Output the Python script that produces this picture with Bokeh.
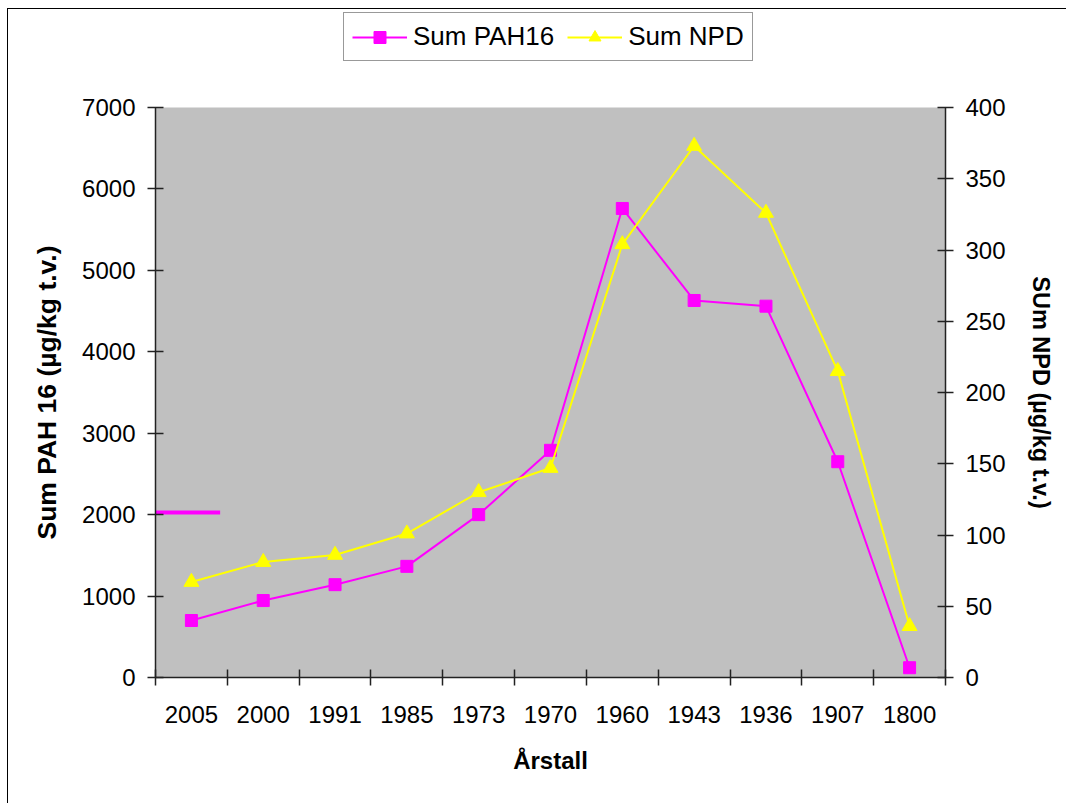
from bokeh.plotting import figure
from bokeh.layouts import column
from bokeh.models import (Range1d, LinearAxis, FixedTicker, Legend, LegendItem)
from bokeh.embed import file_html
from bokeh.resources import INLINE

years = ["2005", "2000", "1991", "1985", "1973", "1970", "1960", "1943", "1936", "1907", "1800"]
sum_pah16 = [700, 945, 1140, 1365, 2000, 2790, 5760, 4630, 4560, 2650, 120]
sum_npd = [67, 81, 86, 101, 130, 147, 304, 373, 326, 215, 36]
ref_line_value = 2025
left_ticks = [0, 1000, 2000, 3000, 4000, 5000, 6000, 7000]
right_ticks = [0, 50, 100, 150, 200, 250, 300, 350, 400]
series_names = ["Sum PAH16", "Sum NPD"]

FONT = "Liberation Sans"
MAGENTA = "#FF00FF"
YELLOW = "#FFFF00"

xpos = [i + 0.5 for i in range(len(years))]

# ---------- legend strip (top); its series lie outside its visible range ----------
p_leg = figure(width=1066, height=62, output_backend="svg", toolbar_location=None,
               x_range=Range1d(-1000, -999), y_range=Range1d(-1000, -999),
               x_axis_type=None, y_axis_type=None, min_border=0)
p_leg.background_fill_color = None
p_leg.border_fill_color = None
p_leg.outline_line_color = None
p_leg.grid.visible = False
dl1 = p_leg.line(xpos, sum_pah16, line_color=MAGENTA, line_width=2)
dm1 = p_leg.scatter(xpos, sum_pah16, marker="square", size=12, fill_color=MAGENTA,
                    line_color=MAGENTA)
dl2 = p_leg.line(xpos, sum_npd, line_color=YELLOW, line_width=2)
dm2 = p_leg.scatter(xpos, sum_npd, marker="triangle", size=15, fill_color=YELLOW,
                    line_color=YELLOW)
legend = Legend(items=[LegendItem(label=series_names[0], renderers=[dl1, dm1]),
                       LegendItem(label=series_names[1], renderers=[dl2, dm2])],
                location=(188, 1), orientation="horizontal")
legend.label_text_font = FONT
legend.label_text_font_size = "26px"
legend.label_text_color = "black"
legend.glyph_width = 55
legend.glyph_height = 30
legend.label_standoff = 6
legend.spacing = 13
legend.padding = 8
legend.margin = 0
legend.border_line_color = "#333333"
legend.border_line_width = 1.5
legend.background_fill_color = "white"
legend.background_fill_alpha = 1
p_leg.add_layout(legend, "center")

# ---------- main chart ----------
p = figure(width=1066, height=741, output_backend="svg", toolbar_location=None,
           x_range=Range1d(0, len(years)), y_range=Range1d(0, 7000),
           min_border_left=155, min_border_top=45, min_border_right=121,
           min_border_bottom=126)
p.extra_y_ranges = {"npd": Range1d(0, 400)}

p.background_fill_color = "#C0C0C0"
p.border_fill_color = None
p.outline_line_color = None
p.grid.visible = False

xa = p.xaxis[0]
xa.ticker = FixedTicker(ticks=xpos, minor_ticks=list(range(len(years) + 1)))
xa.major_label_overrides = {x: y for x, y in zip(xpos, years)}
xa.major_tick_in = 0
xa.major_tick_out = 0
xa.minor_tick_in = 8
xa.minor_tick_out = 8
xa.minor_tick_line_color = "#222222"
xa.minor_tick_line_width = 1.5
xa.axis_label = "Årstall"

ya = p.yaxis[0]
ya.ticker = FixedTicker(ticks=left_ticks)
ya.major_tick_in = 8
ya.major_tick_out = 8
ya.minor_tick_in = 0
ya.minor_tick_out = 0
ya.axis_label = "Sum PAH 16 (µg/kg t.v.)"

ra = LinearAxis(y_range_name="npd", ticker=FixedTicker(ticks=right_ticks),
                axis_label="SUm NPD (µg/kg t.v.)")
ra.major_tick_in = 8
ra.major_tick_out = 8
ra.minor_tick_in = 0
ra.minor_tick_out = 0
p.add_layout(ra, "right")

for ax in [xa, ya, ra]:
    ax.axis_line_color = "#222222"
    ax.axis_line_width = 1.5
    ax.major_tick_line_color = "#222222"
    ax.major_tick_line_width = 1.5
    ax.major_label_text_font = FONT
    ax.major_label_text_font_size = "24px"
    ax.major_label_text_color = "black"
    ax.axis_label_text_font = FONT
    ax.axis_label_text_font_style = "bold"
    ax.axis_label_text_font_size = "24px"
    ax.axis_label_text_color = "black"

ya.axis_label_text_font_size = "26.5px"
ra.axis_label_text_font_size = "23.5px"

xa.major_label_standoff = 20
xa.axis_label_standoff = 21
ya.major_label_standoff = 12
ya.axis_label_standoff = 17
ra.major_label_standoff = 12
ra.axis_label_standoff = 19

# short magenta reference mark near 2000 on the left
p.segment(x0=[0], y0=[ref_line_value], x1=[0.9], y1=[ref_line_value],
          line_color=MAGENTA, line_width=4)

p.line(xpos, sum_pah16, line_color=MAGENTA, line_width=2)
p.scatter(xpos, sum_pah16, marker="square", size=12, fill_color=MAGENTA,
          line_color=MAGENTA)
p.line(xpos, sum_npd, line_color=YELLOW, line_width=2, y_range_name="npd")
p.scatter(xpos, sum_npd, marker="triangle", size=15, fill_color=YELLOW,
          line_color=YELLOW, y_range_name="npd")

lay = column(p_leg, p, spacing=0)
lay.styles = {
    "background": ("linear-gradient(#000,#000) 7px 8px / 1px 100% no-repeat, "
                   "linear-gradient(#000,#000) 7px 8px / 100% 1px no-repeat, #ffffff"),
}

open("out.html", "w").write(file_html(lay, INLINE))
